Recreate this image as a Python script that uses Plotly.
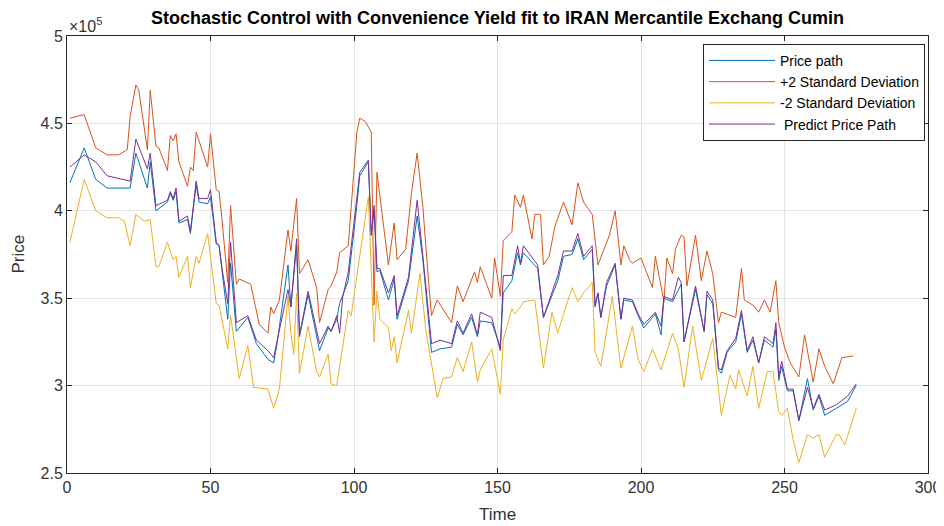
import plotly.graph_objects as go

# Values are in units of 10^5 (as shown by the axis exponent label)
t_upper = [1, 6, 10, 14, 18, 21, 22, 24, 25, 28, 29, 31, 32, 35, 36, 37, 38, 39, 42, 43, 44, 45, 49, 50,
           52, 53, 54, 56, 57, 59, 60, 64, 67, 70, 71, 72, 74, 77, 78, 80, 81, 84, 87, 88, 91, 92, 94, 95, 98,
           101, 102, 104, 106, 107, 108, 110, 112, 114, 115, 118, 120, 122, 124, 126, 127, 129, 134, 136, 138,
           142, 143, 144, 148, 149, 151, 152, 155, 156, 158, 159, 162, 163, 165, 166, 168, 170, 173, 176, 178,
           180, 183, 185, 189, 191, 193, 194, 196, 197, 200, 204, 205, 208, 209, 211, 212, 214, 215, 216, 219,
           221, 223, 225, 227, 228, 233, 234, 235, 236, 239, 241, 243, 245, 247, 248, 250, 252, 255, 257, 260,
           262, 264, 267, 270, 274]
v_upper = [4.53, 4.55, 4.36, 4.32, 4.32, 4.35, 4.54, 4.72, 4.69, 4.35, 4.69, 4.37, 4.36, 4.23, 4.43, 4.40,
           4.44, 4.28, 4.14, 4.25, 4.23, 4.45, 4.25, 4.44, 4.12, 4.11, 3.95, 3.59, 4.03, 3.58, 3.61, 3.58, 3.35,
           3.30, 3.45, 3.41, 3.49, 3.89, 3.77, 4.07, 3.64, 3.72, 3.56, 3.36, 3.55, 3.57, 3.65, 3.76, 3.80, 4.45,
           4.53, 4.51, 4.45, 3.46, 4.22, 3.95, 3.69, 3.93, 3.72, 3.78, 4.10, 4.33, 4.02, 3.59, 3.40, 3.49, 3.36,
           3.57, 3.48, 3.65, 3.59, 3.68, 3.50, 3.73, 3.51, 3.83, 3.88, 4.09, 4.02, 4.09, 3.84, 3.98, 3.98, 3.69,
           3.74, 3.91, 4.05, 3.92, 4.16, 4.05, 3.98, 3.69, 3.86, 4.00, 3.69, 3.80, 3.72, 3.70, 3.73, 3.56, 3.74,
           3.48, 3.73, 3.64, 3.78, 3.86, 3.85, 3.57, 3.86, 3.60, 3.77, 3.64, 3.36, 3.42, 3.39, 3.53, 3.67, 3.49,
           3.46, 3.42, 3.49, 3.42, 3.60, 3.36, 3.22, 3.13, 3.05, 3.29, 3.02, 3.21, 3.11, 3.01, 3.16, 3.17]

t_price = [1, 6, 10, 14, 22, 24, 28, 29, 31, 35, 36, 37, 38, 39, 42, 43, 45, 46, 49, 50, 52, 53, 54, 56,
           57, 59, 63, 66, 70, 72, 73, 77, 78, 80, 81, 84, 88, 91, 92, 94, 95, 98, 101, 102, 105, 106, 107, 108,
           109, 112, 114, 115, 119, 122, 124, 127, 130, 134, 136, 138, 141, 143, 144, 148, 151, 152, 155, 157,
           158, 159, 164, 166, 171, 173, 176, 178, 180, 183, 184, 185, 186, 188, 191, 193, 194, 197, 199, 201,
           205, 207, 208, 211, 214, 215, 219, 222, 223, 225, 227, 228, 230, 233, 235, 237, 239, 241, 243, 246,
           247, 248, 249, 251, 253, 255, 258, 260, 262, 264, 268, 272, 275]
v_price = [4.16, 4.36, 4.18, 4.13, 4.13, 4.33, 4.13, 4.28, 4.00, 4.05, 4.10, 4.06, 4.11, 3.93, 3.95, 3.87,
           4.15, 4.05, 4.04, 4.08, 3.81, 3.80, 3.66, 3.38, 3.70, 3.31, 3.39, 3.24, 3.15, 3.13, 3.22, 3.69, 3.45,
           3.80, 3.28, 3.52, 3.20, 3.33, 3.31, 3.38, 3.47, 3.60, 4.03, 4.20, 4.28, 3.86, 4.00, 3.65, 3.66, 3.49,
           3.61, 3.38, 3.60, 3.97, 3.72, 3.19, 3.21, 3.22, 3.35, 3.29, 3.39, 3.28, 3.37, 3.36, 3.22, 3.53, 3.60,
           3.76, 3.69, 3.76, 3.67, 3.39, 3.60, 3.74, 3.75, 3.84, 3.72, 3.78, 3.45, 3.53, 3.39, 3.57, 3.69, 3.38,
           3.49, 3.48, 3.40, 3.33, 3.41, 3.29, 3.50, 3.48, 3.58, 3.25, 3.55, 3.31, 3.52, 3.47, 3.09, 3.07, 3.19,
           3.25, 3.41, 3.19, 3.26, 3.13, 3.26, 3.22, 3.32, 3.03, 3.11, 2.97, 2.97, 2.80, 3.04, 2.86, 2.94, 2.83,
           2.87, 2.91, 3.00]

t_pred = [1, 6, 10, 14, 22, 24, 28, 29, 31, 35, 36, 37, 38, 39, 42, 43, 45, 46, 49, 50, 52, 53, 54, 56,
          57, 59, 63, 66, 70, 72, 73, 77, 78, 80, 81, 84, 88, 91, 92, 94, 95, 96, 98, 101, 102, 105, 106, 107,
          108, 109, 112, 114, 115, 119, 122, 124, 127, 130, 134, 136, 138, 141, 143, 144, 148, 151, 152, 155,
          157, 158, 159, 164, 166, 171, 173, 176, 178, 180, 183, 184, 185, 186, 188, 191, 193, 194, 197, 199,
          201, 205, 207, 208, 211, 213, 214, 215, 219, 222, 223, 225, 227, 228, 230, 233, 235, 237, 239, 241,
          243, 246, 247, 248, 249, 251, 253, 255, 258, 260, 262, 264, 268, 272, 275]
v_pred = [4.25, 4.32, 4.28, 4.20, 4.17, 4.41, 4.24, 4.33, 4.03, 4.06, 4.11, 4.07, 4.13, 3.94, 3.97, 3.88,
          4.17, 4.07, 4.07, 4.12, 3.82, 3.80, 3.67, 3.47, 3.82, 3.36, 3.40, 3.26, 3.20, 3.16, 3.24, 3.55, 3.45,
          3.84, 3.29, 3.54, 3.24, 3.34, 3.31, 3.40, 3.30, 3.50, 3.65, 4.06, 4.22, 4.29, 3.86, 4.03, 3.67, 3.67,
          3.53, 3.63, 3.40, 3.62, 4.06, 3.74, 3.24, 3.26, 3.24, 3.37, 3.30, 3.41, 3.29, 3.42, 3.39, 3.20, 3.63,
          3.63, 3.80, 3.70, 3.80, 3.69, 3.39, 3.63, 3.77, 3.77, 3.87, 3.74, 3.80, 3.46, 3.53, 3.39, 3.59, 3.70,
          3.38, 3.50, 3.49, 3.41, 3.35, 3.42, 3.34, 3.51, 3.49, 3.62, 3.59, 3.25, 3.57, 3.31, 3.54, 3.49, 3.10,
          3.09, 3.20, 3.27, 3.43, 3.20, 3.28, 3.13, 3.28, 3.24, 3.36, 3.05, 3.14, 2.98, 2.98, 2.80, 2.99, 2.87,
          2.95, 2.86, 2.89, 2.94, 3.01]

t_lower = [1, 6, 10, 14, 18, 20, 22, 24, 27, 29, 31, 32, 35, 37, 38, 39, 42, 43, 45, 46, 49, 52, 53, 56,
           57, 60, 63, 65, 70, 72, 74, 77, 78, 79, 80, 81, 84, 87, 88, 91, 92, 94, 95, 98, 99, 105, 107, 108,
           109, 112, 113, 114, 115, 119, 120, 123, 125, 129, 131, 134, 136, 138, 141, 143, 144, 148, 151, 152,
           155, 156, 158, 159, 163, 166, 169, 171, 173, 176, 178, 180, 183, 184, 186, 190, 193, 195, 197, 199,
           201, 204, 207, 211, 213, 215, 218, 221, 225, 228, 231, 233, 234, 237, 239, 241, 244, 246, 248, 249,
           251, 253, 255, 258, 260, 262, 264, 268, 269, 271, 275]
v_lower = [3.82, 4.18, 4.00, 3.96, 3.96, 3.94, 3.80, 3.98, 3.94, 3.95, 3.68, 3.68, 3.82, 3.72, 3.74, 3.62,
           3.74, 3.56, 3.74, 3.70, 3.87, 3.47, 3.46, 3.21, 3.40, 3.04, 3.23, 2.99, 2.98, 2.87, 2.98, 3.51, 3.30,
           3.18, 3.53, 3.07, 3.34, 3.08, 3.05, 3.18, 3.01, 3.00, 3.11, 3.43, 3.40, 4.08, 3.25, 3.54, 3.38, 3.33,
           3.20, 3.28, 3.13, 3.43, 3.30, 3.64, 3.32, 2.93, 3.04, 3.05, 3.16, 3.08, 3.25, 3.02, 3.09, 3.21, 2.95,
           3.26, 3.44, 3.41, 3.45, 3.48, 3.49, 3.10, 3.42, 3.30, 3.41, 3.56, 3.48, 3.53, 3.59, 3.19, 3.11, 3.51,
           3.10, 3.22, 3.34, 3.15, 3.08, 3.21, 3.09, 3.30, 3.21, 2.99, 3.34, 3.03, 3.27, 2.83, 3.06, 2.98, 3.09,
           2.94, 3.11, 2.87, 3.08, 3.08, 2.85, 2.83, 2.87, 2.69, 2.56, 2.72, 2.70, 2.72, 2.59, 2.72, 2.72, 2.66,
           2.87]

x_ticks = [0, 50, 100, 150, 200, 250, 300]
y_ticks = [2.5, 3, 3.5, 4, 4.5, 5]
y_tick_labels = ["2.5", "3", "3.5", "4", "4.5", "5"]

FONT = "Liberation Sans, Arial, Helvetica, sans-serif"
TXT = "#333333"

# the page places the figure 8px from the top-left corner of the window
FIG_W, FIG_H = 936, 518

fig = go.Figure()
fig.add_trace(go.Scatter(x=t_price, y=v_price, mode="lines", name="Price path",
                         line=dict(color="#0072BD", width=1)))
fig.add_trace(go.Scatter(x=t_upper, y=v_upper, mode="lines", name="+2 Standard Deviation",
                         line=dict(color="#D95319", width=1)))
fig.add_trace(go.Scatter(x=t_lower, y=v_lower, mode="lines", name="-2 Standard Deviation",
                         line=dict(color="#EDB120", width=1)))
fig.add_trace(go.Scatter(x=t_pred, y=v_pred, mode="lines", name=" Predict Price Path",
                         line=dict(color="#7E2F8E", width=1)))

axis_common = dict(showline=True, linecolor="#262626", linewidth=1, mirror="ticks",
                   ticks="inside", ticklen=5, tickcolor="#262626", showgrid=True,
                   gridcolor="#e3e3e3", gridwidth=1, zeroline=False, automargin=False,
                   tickfont=dict(family=FONT, size=16, color=TXT))

fig.update_layout(
    width=FIG_W, height=FIG_H,
    margin=dict(l=59, r=16, t=28, b=53),
    paper_bgcolor="white", plot_bgcolor="white",
    title=dict(text="<b>Stochastic Control with Convenience Yield fit to IRAN Mercantile Exchang Cumin</b>",
               x=0.5, xanchor="center", xref="paper", yref="container", y=1 - 10 / FIG_H,
               yanchor="middle",
               font=dict(family=FONT, size=18, color="black")),
    xaxis=dict(range=[0, 300], tickvals=x_ticks, **axis_common),
    yaxis=dict(range=[2.5, 5], tickvals=y_ticks, ticktext=y_tick_labels, **axis_common),
    legend=dict(x=0.9965, y=0.982, xanchor="right", yanchor="top",
                bgcolor="white", bordercolor="#262626", borderwidth=1,
                font=dict(family=FONT, size=14, color="black"),
                tracegroupgap=0, itemwidth=66),
    showlegend=True,
)

# axis titles
fig.add_annotation(text="Time", xref="paper", yref="paper", x=0.5, y=-(515 - 473) / 437,
                   xanchor="center", yanchor="middle", showarrow=False,
                   font=dict(family=FONT, size=17, color=TXT))
fig.add_annotation(text="Price", xref="paper", yref="paper", x=-(67 - 18) / 861, y=0.5,
                   xanchor="center", yanchor="middle", showarrow=False, textangle=-90,
                   font=dict(family=FONT, size=17, color=TXT))
# exponent label
fig.add_annotation(text="×10<sup>5</sup>", xref="paper", yref="paper", x=0.0, y=1.0,
                   xanchor="left", yanchor="bottom", showarrow=False, yshift=-1,
                   font=dict(family=FONT, size=16, color=TXT))

fig.write_html("out.html")
